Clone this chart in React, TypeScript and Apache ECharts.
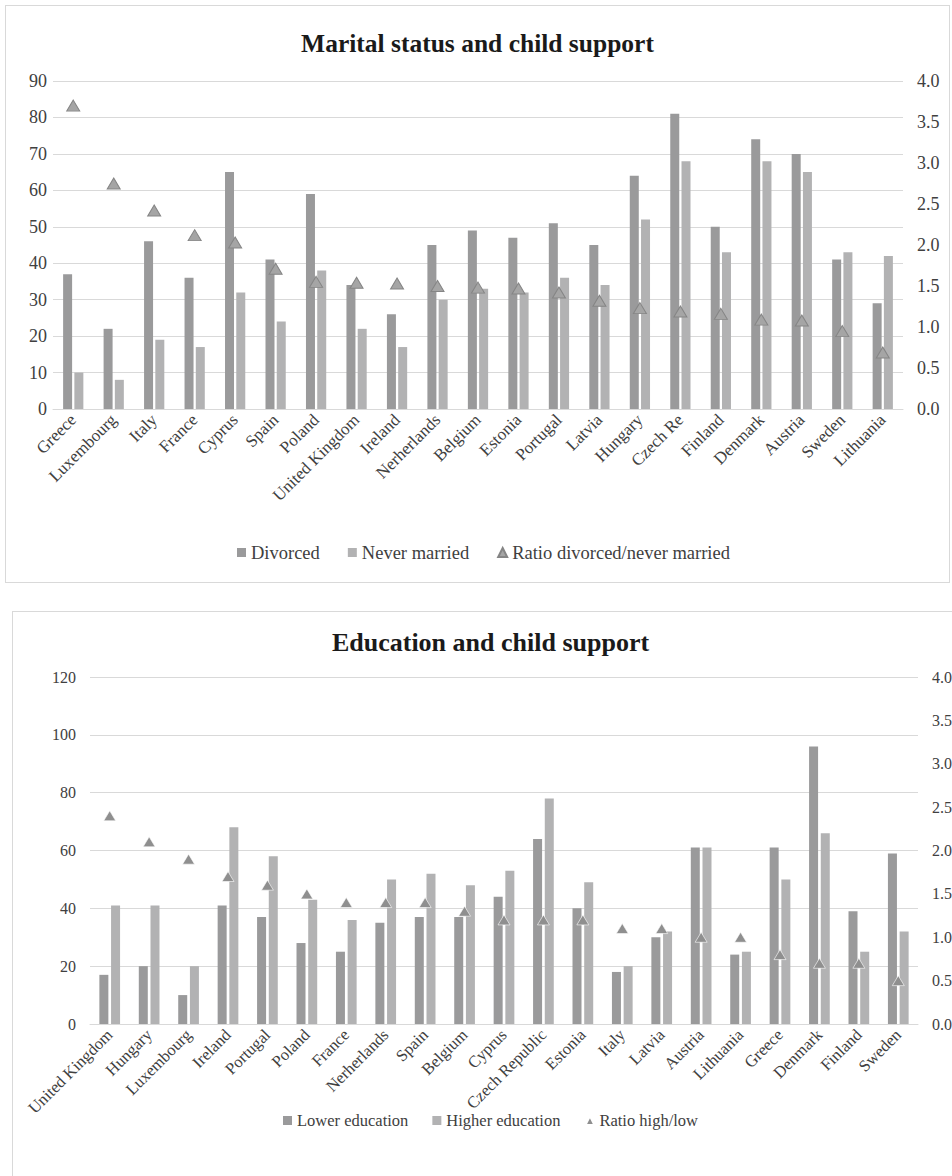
import React, { useEffect, useRef } from "react";
import * as echarts from "echarts";

// ---------- Chart 1: Marital status ----------
const TOP_TITLE = "Marital status and child support";
const TOP_COUNTRIES = [
  "Greece", "Luxembourg", "Italy", "France", "Cyprus", "Spain", "Poland",
  "United Kingdom", "Ireland", "Nerherlands", "Belgium", "Estonia", "Portugal",
  "Latvia", "Hungary", "Czech Re", "Finland", "Denmark", "Austria", "Sweden", "Lithuania",
];
const DIVORCED = [37, 22, 46, 36, 65, 41, 59, 34, 26, 45, 49, 47, 51, 45, 64, 81, 50, 74, 70, 41, 29];
const NEVER_MARRIED = [10, 8, 19, 17, 32, 24, 38, 22, 17, 30, 33, 32, 36, 34, 52, 68, 43, 68, 65, 43, 42];
const RATIO_MARITAL = [3.7, 2.75, 2.42, 2.12, 2.03, 1.71, 1.55, 1.54, 1.53, 1.5, 1.48, 1.47, 1.42, 1.32, 1.23, 1.19, 1.16, 1.09, 1.08, 0.95, 0.69];
const TOP_LEFT_TICKS = { min: 0, max: 90, interval: 10 };
const TOP_RIGHT_TICKS = { min: 0, max: 4, interval: 0.5 };

// ---------- Chart 2: Education ----------
const BOT_TITLE = "Education and child support";
const BOT_COUNTRIES = [
  "United Kingdom", "Hungary", "Luxembourg", "Ireland", "Portugal", "Poland", "France",
  "Nerherlands", "Spain", "Belgium", "Cyprus", "Czech Republic", "Estonia", "Italy",
  "Latvia", "Austria", "Lithuania", "Greece", "Denmark", "Finland", "Sweden",
];
const LOWER_EDU = [17, 20, 10, 41, 37, 28, 25, 35, 37, 37, 44, 64, 40, 18, 30, 61, 24, 61, 96, 39, 59];
const HIGHER_EDU = [41, 41, 20, 68, 58, 43, 36, 50, 52, 48, 53, 78, 49, 20, 32, 61, 25, 50, 66, 25, 32];
const RATIO_EDU = [2.4, 2.1, 1.9, 1.7, 1.6, 1.5, 1.4, 1.4, 1.4, 1.3, 1.2, 1.2, 1.2, 1.1, 1.1, 1.0, 1.0, 0.8, 0.7, 0.7, 0.5];
const BOT_LEFT_TICKS = { min: 0, max: 120, interval: 20 };
const BOT_RIGHT_TICKS = { min: 0, max: 4, interval: 0.5 };

const FONT = "Liberation Serif";
const DARK = "#9a9a9b";
const LIGHT = "#b2b2b3";
const TEXT = "#404040";
const GRIDLINE = "#d9d9d9";

function buildOption(cfg: any) {
  return {
    animation: false,
    backgroundColor: "#ffffff",
    title: {
      text: cfg.title,
      left: "center",
      top: cfg.titleTop,
      padding: 0,
      textStyle: { fontFamily: FONT, fontWeight: "bold", fontSize: cfg.titleSize, color: "#1a1a1a" },
    },
    legend: {
      top: cfg.legendTop,
      left: cfg.legendLeft,
      padding: 0,
      itemGap: cfg.legendGap,
      itemWidth: 9,
      itemHeight: 9,
      textStyle: { fontFamily: FONT, fontSize: cfg.legendSize, color: TEXT },
      data: [
        { name: cfg.names[0], icon: "rect" },
        { name: cfg.names[1], icon: "rect" },
        { name: cfg.names[2], icon: "triangle" },
      ],
    },
    grid: { ...cfg.grid, containLabel: false },
    xAxis: {
      type: "category",
      data: cfg.categories,
      axisLine: { show: true, lineStyle: { color: GRIDLINE, width: 1 } },
      axisTick: { show: false },
      axisLabel: {
        interval: 0,
        rotate: 45,
        margin: 8,
        fontFamily: FONT,
        fontSize: cfg.xSize,
        color: TEXT,
      },
    },
    yAxis: [
      {
        type: "value",
        ...cfg.leftTicks,
        axisLine: { show: false },
        axisTick: { show: false },
        splitLine: { show: true, lineStyle: { color: GRIDLINE, width: 1 } },
        axisLabel: { fontFamily: FONT, fontSize: cfg.ySize, color: TEXT, margin: cfg.leftMargin },
      },
      {
        type: "value",
        ...cfg.rightTicks,
        position: "right",
        axisLine: { show: false },
        axisTick: { show: false },
        splitLine: { show: false },
        axisLabel: {
          fontFamily: FONT,
          fontSize: cfg.ySize,
          color: TEXT,
          margin: 14,
          formatter: (v: number) => v.toFixed(1),
        },
      },
    ],
    series: [
      {
        name: cfg.names[0],
        type: "bar",
        data: cfg.a,
        barWidth: 9,
        barGap: cfg.barGap,
        itemStyle: { color: DARK },
      },
      {
        name: cfg.names[1],
        type: "bar",
        data: cfg.b,
        barWidth: 9,
        barGap: cfg.barGap,
        itemStyle: { color: LIGHT },
      },
      {
        name: cfg.names[2],
        type: "scatter",
        yAxisIndex: 1,
        data: cfg.ratio,
        symbol: "triangle",
        symbolSize: cfg.triSize,
        z: 5,
        itemStyle: {
          color: cfg.triColor,
          borderColor: cfg.triBorder,
          borderWidth: cfg.triBorderWidth,
          opacity: 1,
        },
      },
    ],
  };
}

export default function App() {
  const topRef = useRef<HTMLDivElement>(null);
  const botRef = useRef<HTMLDivElement>(null);

  useEffect(() => {
    const c1 = echarts.init(topRef.current!, null, { renderer: "svg" });
    c1.setOption(
      buildOption({
        title: TOP_TITLE,
        titleTop: 24,
        titleSize: 25.5,
        grid: { left: 47, right: 46, top: 75, bottom: 173 },
        legendTop: 537,
        legendLeft: 231,
        legendGap: 28,
        legendSize: 18.5,
        xSize: 17,
        ySize: 18,
        categories: TOP_COUNTRIES,
        names: ["Divorced", "Never married", "Ratio divorced/never married"],
        a: DIVORCED,
        b: NEVER_MARRIED,
        ratio: RATIO_MARITAL,
        leftTicks: TOP_LEFT_TICKS,
        rightTicks: TOP_RIGHT_TICKS,
        leftMargin: 6,
        barGap: "25%",
        triSize: [13, 11],
        triColor: "#a5a5a5",
        triBorder: "#858585",
        triBorderWidth: 1,
      })
    );
    const c2 = echarts.init(botRef.current!, null, { renderer: "svg" });
    c2.setOption(
      buildOption({
        title: BOT_TITLE,
        titleTop: 17,
        titleSize: 26,
        grid: { left: 77, right: 50, top: 65, bottom: 168 },
        legendTop: 500,
        legendLeft: "center",
        legendGap: 24,
        legendSize: 16.5,
        xSize: 16.5,
        ySize: 16,
        categories: BOT_COUNTRIES,
        names: ["Lower education", "Higher education", "Ratio high/low"],
        a: LOWER_EDU,
        b: HIGHER_EDU,
        ratio: RATIO_EDU,
        leftTicks: BOT_LEFT_TICKS,
        rightTicks: BOT_RIGHT_TICKS,
        leftMargin: 14,
        barGap: "30%",
        triSize: [12, 10],
        triColor: "#8f8f8f",
        triBorder: "#ffffff",
        triBorderWidth: 0.6,
      })
    );
    return () => {
      c1.dispose();
      c2.dispose();
    };
  }, []);

  return (
    <div
      style={{
        position: "fixed",
        left: 0,
        top: 0,
        width: 952,
        height: 1176,
        overflow: "hidden",
        background: "#ffffff",
      }}
    >
      <div
        style={{
          position: "absolute",
          left: 5,
          top: 5,
          width: 943,
          height: 576,
          border: `1px solid ${GRIDLINE}`,
        }}
      >
        <div ref={topRef} style={{ width: 943, height: 576 }} />
      </div>
      <div
        style={{
          position: "absolute",
          left: 12,
          top: 611,
          width: 955,
          height: 580,
          border: `1px solid ${GRIDLINE}`,
        }}
      >
        <div ref={botRef} style={{ width: 955, height: 580 }} />
      </div>
    </div>
  );
}
